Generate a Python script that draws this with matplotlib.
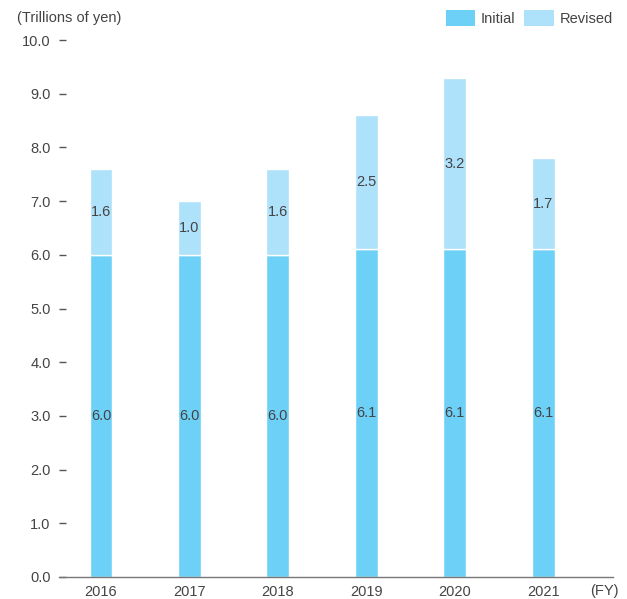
import matplotlib
matplotlib.use('Agg')
import matplotlib.pyplot as plt
from matplotlib.patches import Patch

plt.rcParams['font.family'] = ['Liberation Sans', 'DejaVu Sans']

years = ['2016', '2017', '2018', '2019', '2020', '2021']
initial = [6.0, 6.0, 6.0, 6.1, 6.1, 6.1]
revised = [1.6, 1.0, 1.6, 2.5, 3.2, 1.7]

c_init = '#6dd0f7'
c_rev = '#aee1fa'
txt = '#444444'

fig = plt.figure(figsize=(6.27, 5.99), dpi=100)
ax = fig.add_axes([59/627, 1-577/599, (613-59)/627, (577-40)/599])

x = range(len(years))
ax.bar(x, initial, width=0.26, color=c_init, edgecolor='white', linewidth=1)
ax.bar(x, revised, width=0.26, bottom=initial, color=c_rev, edgecolor='white', linewidth=1)

for i in x:
	ax.text(i, initial[i]/2, '%.1f' % initial[i], ha='center', va='center', fontsize=10.5, color=txt)
	ax.text(i, initial[i]+revised[i]/2, '%.1f' % revised[i], ha='center', va='center', fontsize=10.5, color=txt)

ax.set_xlim(-0.475, 5.79)
ax.set_ylim(0, 10)
ax.set_yticks([i*1.0 for i in range(11)])
ax.set_yticklabels(['%.1f' % (i*1.0) for i in range(11)])
ax.set_xticks(list(x))
ax.set_xticklabels(years)

for s in ['left', 'right', 'top']:
	ax.spines[s].set_visible(False)
ax.spines['bottom'].set_color('#777777')
ax.spines['bottom'].set_linewidth(1)

ax.tick_params(axis='y', direction='in', length=5, width=1, color='#555555', pad=6, labelsize=10.5, labelcolor=txt)
ax.tick_params(axis='x', length=0, pad=6, labelsize=10.5, labelcolor=txt)

fig.text(604/627, 1-591/599, '(FY)', ha='center', va='center', fontsize=10.5, color=txt)
fig.text(17/627, 1-18/599, '(Trillions of yen)', ha='left', va='center', fontsize=10.5, color=txt)

handles = [Patch(facecolor=c_init, label='Initial'), Patch(facecolor=c_rev, label='Revised')]
fig.legend(handles=handles, loc='upper right', bbox_to_anchor=(0.998, 1.005), ncol=2, frameon=False,
	fontsize=10.5, handlelength=2.0, handleheight=1.3, handletextpad=0.4, columnspacing=0.6,
	labelcolor=txt)

plt.savefig('out.png', dpi=100)
